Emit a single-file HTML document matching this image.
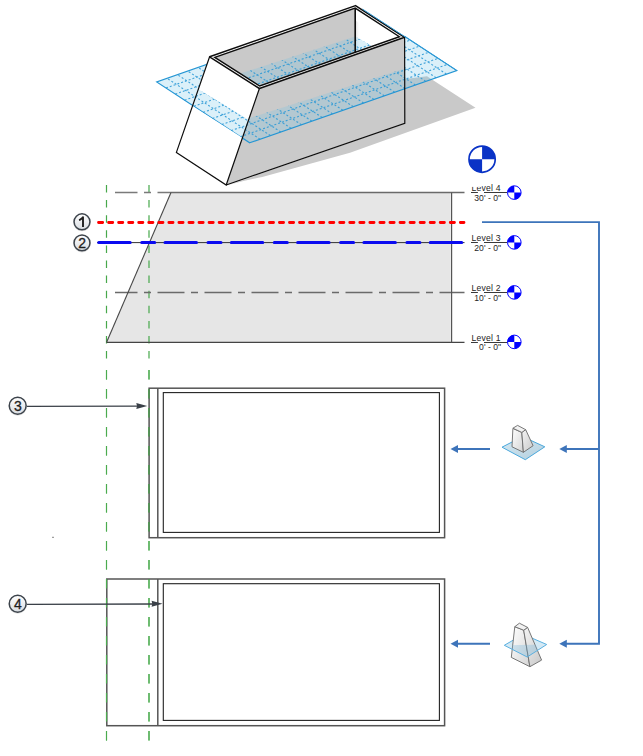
<!DOCTYPE html><html><head><meta charset="utf-8"><style>html,body{margin:0;padding:0;background:#fff;overflow:hidden;width:643px;height:756px}svg{display:block}text{font-family:"Liberation Sans",sans-serif}</style></head><body>
<svg width="643" height="756" viewBox="0 0 643 756">
<defs>
<linearGradient id="cg" x1="0" y1="0" x2="0" y2="1"><stop offset="0" stop-color="#ffffff"/><stop offset="1" stop-color="#d9dde2"/></linearGradient>
<linearGradient id="blk" x1="0" y1="0" x2="1" y2="1"><stop offset="0" stop-color="#ffffff"/><stop offset="1" stop-color="#d4d4d4"/></linearGradient>
<linearGradient id="blk2" x1="0" y1="0" x2="1" y2="1"><stop offset="0" stop-color="#f4f4f4"/><stop offset="1" stop-color="#c8c8c8"/></linearGradient>
<linearGradient id="shd" x1="0" y1="0" x2="1" y2="0"><stop offset="0" stop-color="#d8d8d8"/><stop offset="1" stop-color="#ffffff" stop-opacity="0"/></linearGradient>
<linearGradient id="basef" x1="0" y1="0" x2="1" y2="1"><stop offset="0" stop-color="#d6eaf5"/><stop offset="1" stop-color="#b3cedc"/></linearGradient>
<clipPath id="pclip">
<polygon points="140.00,40.00 212.00,40.00 209.60,56.80 192.50,106.10 185.00,140.00 140.00,140.00"/>
<polygon points="198.30,89.30 248.80,119.80 242.40,137.80 192.50,106.10"/>
<polygon points="248.00,118.60 404.80,68.50 404.80,95.00 240.00,150.00 242.40,137.80"/>
<polygon points="240.20,73.60 355.20,36.40 355.20,52.30 259.70,86.00"/>
<polygon points="355.20,36.40 371.10,45.40 355.20,52.30"/>
<polygon points="404.80,30.00 470.00,30.00 470.00,100.00 404.80,100.00"/>
</clipPath>
</defs>
<path d="M230,184.5 Q248,179.5 262.3,177.1 L350,152.7 L475.5,107.8 L427,76.2 L405,79 L405,123.4 Z" fill="#c9c9c9"/>
<polygon points="209.60,56.80 355.50,5.60 404.60,37.30 259.40,88.50" fill="#ffffff"/>
<polygon points="214.80,57.40 355.20,8.10 399.40,36.70 259.70,86.00" fill="#c9c9c9"/>
<polygon points="355.20,8.10 399.40,36.70 355.20,52.30" fill="#ffffff"/>
<polygon points="355.2,20 360,24 360,50.6 355.2,52.3" fill="url(#shd)"/>
<polygon points="259.40,88.50 404.60,37.30 404.80,123.40 226.20,185.00" fill="#cacaca"/>
<polygon points="209.60,56.80 259.40,88.50 226.20,185.00 176.40,152.40" fill="#ffffff"/>
<g clip-path="url(#pclip)">
<polygon points="249.70,142.80 456.80,70.50 363.80,9.60 156.70,81.90" fill="rgba(110,195,232,0.25)"/>
<path d="M260.06,139.19L167.06,78.28M270.41,135.57L177.41,74.67M280.76,131.96L187.76,71.06M291.12,128.34L198.12,67.44M301.48,124.73L208.48,63.83M311.83,121.11L218.83,60.21M322.19,117.50L229.19,56.59M332.54,113.88L239.54,52.98M342.89,110.27L249.89,49.37M353.25,106.65L260.25,45.75M363.61,103.03L270.61,42.13M373.96,99.42L280.96,38.52M384.31,95.81L291.31,34.91M394.67,92.19L301.67,31.29M405.02,88.58L312.02,27.67M415.38,84.96L322.38,24.06M425.74,81.34L332.74,20.44M436.09,77.73L343.09,16.83M446.44,74.12L353.44,13.22M240.40,136.71L447.50,64.41M231.10,130.62L438.20,58.32M221.80,124.53L428.90,52.23M212.50,118.44L419.60,46.14M203.20,112.35L410.30,40.05M193.90,106.26L401.00,33.96M184.60,100.17L391.70,27.87M175.30,94.08L382.40,21.78M166.00,87.99L373.10,15.69" stroke="#2f9ad6" stroke-width="1.1" stroke-dasharray="2 2" fill="none" opacity="0.9"/>
<polygon points="249.70,142.80 456.80,70.50 363.80,9.60 156.70,81.90" fill="none" stroke="#2596d4" stroke-width="1.15"/>
</g>
<polygon points="209.60,56.80 355.50,5.60 404.60,37.30 259.40,88.50" fill="none" stroke="#0d0d0d" stroke-width="1.5" stroke-linejoin="round"/>
<polygon points="214.80,57.40 355.20,8.10 399.40,36.70 259.70,86.00" fill="none" stroke="#0d0d0d" stroke-width="1.4"/>
<line x1="355.2" y1="8.1" x2="355.2" y2="52.3" stroke="#0d0d0d" stroke-width="1.6"/>
<polyline points="209.60,56.80 176.40,152.40 226.20,185.00 259.40,88.50" fill="none" stroke="#0d0d0d" stroke-width="1.2"/>
<polyline points="226.20,185.00 404.80,123.40 404.60,37.30" fill="none" stroke="#0d0d0d" stroke-width="1.2"/>
<line x1="362.5" y1="9.1" x2="456.8" y2="70.5" stroke="#2f9ad6" stroke-width="1"/>
<polygon points="171,192.5 450.8,192.5 450.8,342.2 106.6,342.2" fill="#e6e6e6"/>
<line x1="106.5" y1="185" x2="106.5" y2="359" stroke="#47a84b" stroke-width="1.2" stroke-dasharray="7.5 7.6"/>
<line x1="106.5" y1="370" x2="106.5" y2="740.5" stroke="#4aab4e" stroke-width="1.1" stroke-dasharray="9.5 9.5"/>
<line x1="149.0" y1="185" x2="149.0" y2="359" stroke="#47a84b" stroke-width="1.2" stroke-dasharray="7.5 7.6"/>
<line x1="149.0" y1="370" x2="149.0" y2="740.5" stroke="#4aab4e" stroke-width="1.1" stroke-dasharray="9.5 9.5"/>
<line x1="115" y1="192.5" x2="171" y2="192.5" stroke="#7a7a7a" stroke-width="1.5" stroke-dasharray="27 6.5 7 6.5" stroke-dashoffset="4.5"/>
<line x1="171" y1="192.5" x2="464.5" y2="192.5" stroke="#6a6a6a" stroke-width="1.3"/>
<line x1="115" y1="292.6" x2="464.5" y2="292.6" stroke="#6a6a6a" stroke-width="1.5" stroke-dasharray="27 6.5 7 6.5" stroke-dashoffset="4.5"/>
<line x1="97" y1="242.6" x2="464.5" y2="242.6" stroke="#333" stroke-width="1"/>
<line x1="106.6" y1="342.3" x2="464.5" y2="342.3" stroke="#444" stroke-width="1.2"/>
<line x1="451.6" y1="192.5" x2="451.6" y2="342.3" stroke="#555" stroke-width="1.2"/>
<line x1="171" y1="192.5" x2="106.6" y2="342.3" stroke="#484848" stroke-width="1.1"/>
<line x1="98.5" y1="222.5" x2="464" y2="222.5" stroke="#ff0000" stroke-width="2.8" stroke-dasharray="4.2 5.85" stroke-linecap="round"/>
<line x1="98.7" y1="242.6" x2="464" y2="242.6" stroke="#0b0bf0" stroke-width="3" stroke-dasharray="31.5 11.5 13 10.3" stroke-linecap="round"/>
<circle cx="82" cy="222.60000000000002" r="8.7" fill="#000" opacity="0.12"/>
<circle cx="82" cy="221.8" r="7.949999999999999" fill="url(#cg)" stroke="#3c434b" stroke-width="1.5"/>
<path d="M83.0,227.0V217.20000000000002L81.4,218.8Q80.2,219.8 79.0,220.10000000000002" fill="none" stroke="#1e1e1e" stroke-width="1.9" stroke-linejoin="round"/>
<circle cx="82" cy="243.70000000000002" r="8.7" fill="#000" opacity="0.12"/>
<circle cx="82" cy="242.9" r="7.949999999999999" fill="url(#cg)" stroke="#3c434b" stroke-width="1.5"/>
<text x="82.2" y="248.01" font-size="14" text-anchor="middle" fill="#1e1e1e" stroke="#1e1e1e" stroke-width="0.3">2</text>
<circle cx="482.1" cy="159.2" r="13.1" fill="#fff"/>
<path d="M482.1,159.2L482.1,146.1A13.1,13.1 0 0 1 495.20000000000005,159.2ZM482.1,159.2L482.1,172.29999999999998A13.1,13.1 0 0 1 469.0,159.2Z" fill="#0a33c6"/>
<circle cx="482.1" cy="159.2" r="13.1" fill="none" stroke="#0a33c6" stroke-width="1.7"/>
<line x1="471" y1="192.5" x2="477.9" y2="192.5" stroke="#3a3a3a" stroke-width="1"/>
<line x1="484" y1="192.5" x2="507" y2="192.5" stroke="#3a3a3a" stroke-width="1"/>
<circle cx="514.3" cy="192.6" r="6.8" fill="#fff"/>
<path d="M514.3,192.6L507.49999999999994,192.6A6.8,6.8 0 0 1 514.3,185.79999999999998ZM514.3,192.6L521.0999999999999,192.6A6.8,6.8 0 0 1 514.3,199.4Z" fill="#0000ff"/>
<circle cx="514.3" cy="192.6" r="6.8" fill="none" stroke="#0000ff" stroke-width="1"/>
<text x="471.6" y="191.29999999999998" font-size="8.6" letter-spacing="0.2" fill="#222">Level 4</text>
<text x="501" y="200.7" font-size="8.6" letter-spacing="0" text-anchor="end" fill="#262626">30' - 0"</text>
<line x1="471" y1="242.5" x2="477.9" y2="242.5" stroke="#3a3a3a" stroke-width="1"/>
<line x1="484" y1="242.5" x2="507" y2="242.5" stroke="#3a3a3a" stroke-width="1"/>
<circle cx="514.3" cy="242.4" r="6.8" fill="#fff"/>
<path d="M514.3,242.4L507.49999999999994,242.4A6.8,6.8 0 0 1 514.3,235.6ZM514.3,242.4L521.0999999999999,242.4A6.8,6.8 0 0 1 514.3,249.20000000000002Z" fill="#0000ff"/>
<circle cx="514.3" cy="242.4" r="6.8" fill="none" stroke="#0000ff" stroke-width="1"/>
<text x="471.6" y="241.1" font-size="8.6" letter-spacing="0.2" fill="#222">Level 3</text>
<text x="501" y="250.5" font-size="8.6" letter-spacing="0" text-anchor="end" fill="#262626">20' - 0"</text>
<line x1="471" y1="292.5" x2="477.9" y2="292.5" stroke="#3a3a3a" stroke-width="1"/>
<line x1="484" y1="292.5" x2="507" y2="292.5" stroke="#3a3a3a" stroke-width="1"/>
<circle cx="514.3" cy="292.4" r="6.8" fill="#fff"/>
<path d="M514.3,292.4L507.49999999999994,292.4A6.8,6.8 0 0 1 514.3,285.59999999999997ZM514.3,292.4L521.0999999999999,292.4A6.8,6.8 0 0 1 514.3,299.2Z" fill="#0000ff"/>
<circle cx="514.3" cy="292.4" r="6.8" fill="none" stroke="#0000ff" stroke-width="1"/>
<text x="471.6" y="291.09999999999997" font-size="8.6" letter-spacing="0.2" fill="#222">Level 2</text>
<text x="501" y="300.5" font-size="8.6" letter-spacing="0" text-anchor="end" fill="#262626">10' - 0"</text>
<line x1="471" y1="342.5" x2="477.9" y2="342.5" stroke="#3a3a3a" stroke-width="1"/>
<line x1="484" y1="342.5" x2="507" y2="342.5" stroke="#3a3a3a" stroke-width="1"/>
<circle cx="514.3" cy="341.9" r="6.8" fill="#fff"/>
<path d="M514.3,341.9L507.49999999999994,341.9A6.8,6.8 0 0 1 514.3,335.09999999999997ZM514.3,341.9L521.0999999999999,341.9A6.8,6.8 0 0 1 514.3,348.7Z" fill="#0000ff"/>
<circle cx="514.3" cy="341.9" r="6.8" fill="none" stroke="#0000ff" stroke-width="1"/>
<text x="471.6" y="340.59999999999997" font-size="8.6" letter-spacing="0.2" fill="#222">Level 1</text>
<text x="501" y="350.0" font-size="8.6" letter-spacing="0" text-anchor="end" fill="#262626">0' - 0"</text>
<rect x="470" y="183" width="11.5" height="3.9" fill="#fff"/>
<polyline points="482,222.1 599,222.1 599,643.8 566,643.8" fill="none" stroke="#3d74ba" stroke-width="1.9"/>
<line x1="599" y1="449" x2="566" y2="449" stroke="#3d74ba" stroke-width="1.9"/>
<line x1="490" y1="449" x2="457" y2="449" stroke="#3d74ba" stroke-width="1.9"/>
<line x1="490" y1="643.8" x2="457" y2="643.8" stroke="#3d74ba" stroke-width="1.9"/>
<polygon points="559.30,449.00 566.80,445.00 566.80,453.00" fill="#3d74ba"/>
<polygon points="559.30,643.80 566.80,639.80 566.80,647.80" fill="#3d74ba"/>
<polygon points="450.50,449.00 458.00,445.00 458.00,453.00" fill="#3d74ba"/>
<polygon points="450.50,643.80 458.00,639.80 458.00,647.80" fill="#3d74ba"/>
<rect x="149.1" y="388.2" width="295.5" height="149.5" fill="none" stroke="#555" stroke-width="1.5"/>
<line x1="157.8" y1="388.2" x2="157.8" y2="537.7" stroke="#555" stroke-width="1.5"/>
<rect x="163.3" y="392.6" width="276.1" height="139.8" fill="none" stroke="#222" stroke-width="1.1"/>
<rect x="106.8" y="579" width="337.8" height="146.7" fill="none" stroke="#555" stroke-width="1.5"/>
<line x1="157.8" y1="579" x2="157.8" y2="725.7" stroke="#555" stroke-width="1.5"/>
<rect x="163.3" y="583.7" width="276.1" height="136.7" fill="none" stroke="#222" stroke-width="1.1"/>
<line x1="106.5" y1="370" x2="106.5" y2="740.5" stroke="#4aab4e" stroke-width="1.1" stroke-dasharray="9.5 9.5"/>
<line x1="149.0" y1="370" x2="149.0" y2="740.5" stroke="#4aab4e" stroke-width="1.1" stroke-dasharray="9.5 9.5"/>
<line x1="27" y1="406.3" x2="140" y2="406.1" stroke="#3a4048" stroke-width="1.3"/>
<polygon points="147.30,405.90 136.30,402.90 137.00,405.90 136.30,408.90" fill="#3a4048"/>
<line x1="27" y1="604.3" x2="155" y2="604" stroke="#3a4048" stroke-width="1.3"/>
<polygon points="162.60,603.80 151.60,600.80 152.30,603.80 151.60,606.80" fill="#3a4048"/>
<circle cx="17.7" cy="406.5" r="9.2" fill="#000" opacity="0.12"/>
<circle cx="17.7" cy="405.7" r="8.45" fill="url(#cg)" stroke="#3c434b" stroke-width="1.5"/>
<text x="17.9" y="410.81" font-size="14" text-anchor="middle" fill="#1e1e1e" stroke="#1e1e1e" stroke-width="0.3">3</text>
<circle cx="17.7" cy="604.5" r="9.2" fill="#000" opacity="0.12"/>
<circle cx="17.7" cy="603.7" r="8.45" fill="url(#cg)" stroke="#3c434b" stroke-width="1.5"/>
<text x="17.9" y="608.8100000000001" font-size="14" text-anchor="middle" fill="#1e1e1e" stroke="#1e1e1e" stroke-width="0.3">4</text>
<rect x="52" y="536.8" width="2" height="1" fill="#888"/>
<polygon points="522.50,436.60 544.80,446.80 525.30,459.70 502.00,447.20" fill="url(#basef)" stroke="#4aa8dc" stroke-width="1"/>
<polygon points="512.90,428.50 521.80,432.40 523.40,452.30 512.00,446.80" fill="url(#blk)" stroke="#6a6a6a" stroke-width="0.9"/>
<polygon points="521.80,432.40 525.70,429.70 533.10,445.70 523.40,452.30" fill="url(#blk2)" stroke="#6a6a6a" stroke-width="0.9"/>
<polygon points="512.90,428.20 517.60,425.40 525.70,429.70 521.80,432.40" fill="#f2f2f2" stroke="#6a6a6a" stroke-width="0.9"/>
<polygon points="523.30,634.30 546.70,644.50 504.30,645.30" fill="rgba(110,185,225,0.3)"/>
<polyline points="504.30,645.30 523.30,634.30 546.70,644.50" fill="none" stroke="#5ab0e0" stroke-width="1"/>
<polygon points="514.80,626.70 523.70,630.20 529.90,666.70 511.30,657.40" fill="url(#blk)" stroke="#6a6a6a" stroke-width="0.9"/>
<polygon points="523.70,630.20 527.60,627.40 541.60,660.10 529.90,666.70" fill="url(#blk2)" stroke="#6a6a6a" stroke-width="0.9"/>
<polygon points="514.80,626.70 519.40,623.20 527.60,627.40 523.70,630.20" fill="#f2f2f2" stroke="#6a6a6a" stroke-width="0.9"/>
<polygon points="546.70,644.50 527.20,657.00 504.30,645.30" fill="rgba(110,180,220,0.3)" stroke="none"/>
<polyline points="546.70,644.50 527.20,657.00 504.30,645.30" fill="none" stroke="#5ab0e0" stroke-width="1"/>
</svg></body></html>
